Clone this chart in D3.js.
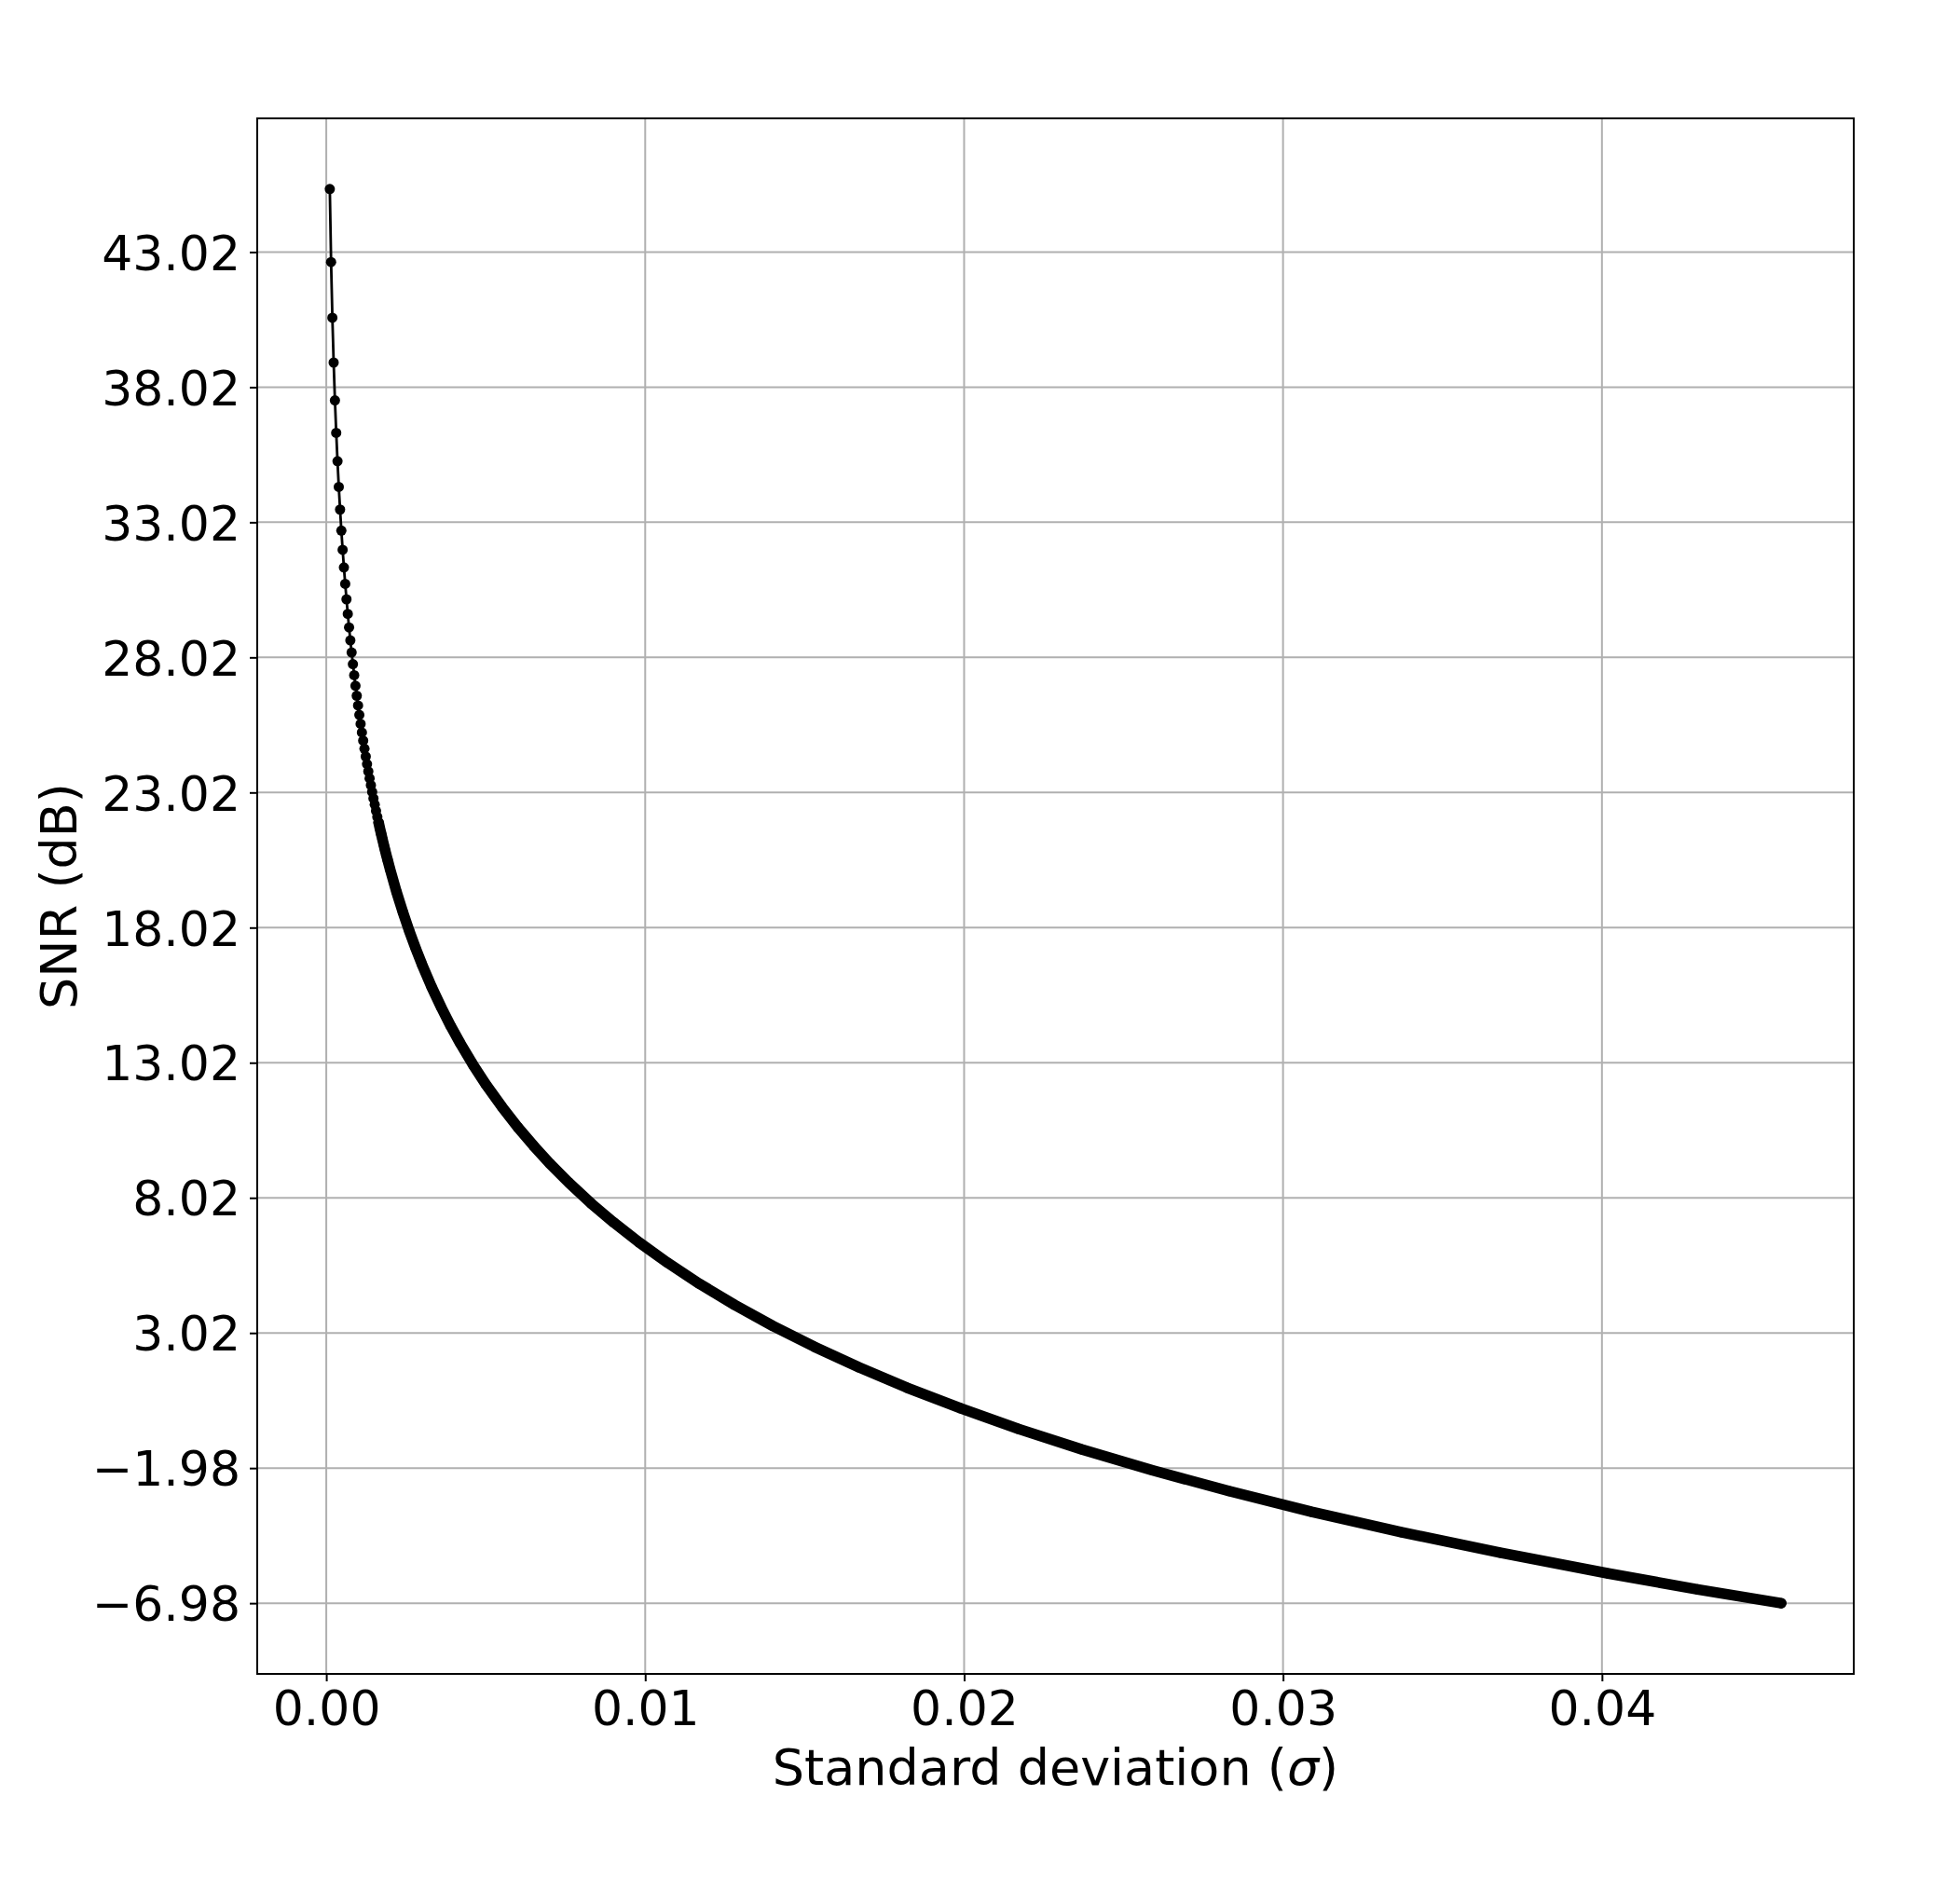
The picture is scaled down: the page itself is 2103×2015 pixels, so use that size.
<!DOCTYPE html>
<html>
<head>
<meta charset="utf-8">
<script src="https://cdn.jsdelivr.net/npm/d3@7"></script>
<style>
  body { margin: 0; background: #fff; }
  text { font-family: "DejaVu Sans", sans-serif; }
</style>
</head>
<body>
<div id="chart"></div>
<script>
// standard deviation of the added noise
const sigma = [
    0.0001103, 0.0001506, 0.0001908, 0.0002311, 0.0002714, 0.0003116, 0.0003519, 0.0003921, 0.0004324, 0.0004727,
    0.0005129, 0.0005532, 0.0005934, 0.0006337, 0.0006740, 0.0007142, 0.0007545, 0.0007947, 0.0008350, 0.0008753,
    0.0009155, 0.0009558, 0.0009960, 0.0010363, 0.0010765, 0.0011168, 0.0011571, 0.0011973, 0.0012376, 0.0012778,
    0.0013181, 0.0013583, 0.0013986, 0.0014389, 0.0014791, 0.0015194, 0.0015596, 0.0015999, 0.0016402, 0.0016804,
    0.0017207, 0.0017609, 0.0018012, 0.0018415, 0.0018817, 0.0019220,
    0.0020, 0.0022, 0.0024, 0.0026, 0.0028, 0.0030, 0.0033, 0.0036, 0.0039, 0.0042,
    0.0046, 0.0050, 0.0055, 0.0060, 0.0065, 0.0070, 0.0076, 0.0083, 0.0090, 0.0098,
    0.0107, 0.0117, 0.0128, 0.0140, 0.0153, 0.0167, 0.0182, 0.0199, 0.0217, 0.0237,
    0.0259, 0.0283, 0.0309, 0.0337, 0.0368, 0.0402, 0.0430, 0.04562
];

// SNR in dB for each sigma
const snr = [
    45.35, 42.65, 40.59, 38.93, 37.53, 36.33, 35.28, 34.33, 33.49, 32.71,
    32.00, 31.35, 30.74, 30.17, 29.63, 29.13, 28.65, 28.20, 27.77, 27.36,
    26.97, 26.60, 26.24, 25.89, 25.56, 25.24, 24.94, 24.64, 24.35, 24.07,
    23.80, 23.54, 23.29, 23.04, 22.80, 22.57, 22.34, 22.12, 21.91, 21.69,
    21.49, 21.29, 21.09, 20.90, 20.71, 20.53,
    20.18, 19.35, 18.60, 17.90, 17.26, 16.66, 15.83, 15.08, 14.38, 13.74,
    12.95, 12.22, 11.40, 10.64, 9.95, 9.30, 8.59, 7.82, 7.12, 6.38,
    5.62, 4.84, 4.06, 3.28, 2.51, 1.75, 1.00, 0.23, -0.53, -1.29,
    -2.06, -2.83, -3.60, -4.35, -5.11, -5.88, -6.47, -6.98
];

const xTicks = [0, 0.01, 0.02, 0.03, 0.04];
const yTicks = [-6.98, -1.98, 3.02, 8.02, 13.02, 18.02, 23.02, 28.02, 33.02, 38.02, 43.02];

// past this sigma the markers sit so close that they merge into one band
const denseFrom = 0.0016;

const fullWidth = 2103, fullHeight = 2015;
const margin = {top: 127, right: 114, bottom: 219, left: 276};
const width = fullWidth - margin.left - margin.right;
const height = fullHeight - margin.top - margin.bottom;

const data = sigma.map((s, i) => ({s: s, v: snr[i]}));

const svg = d3.select("#chart")
    .append("svg")
    .attr("width", fullWidth)
    .attr("height", fullHeight)
    .style("display", "block");

svg.append("rect")
    .attr("width", fullWidth)
    .attr("height", fullHeight)
    .attr("fill", "#fff");

const g = svg.append("g")
    .attr("transform", `translate(${margin.left},${margin.top})`);

// matplotlib-like 5% margins
const xExt = d3.extent(sigma), yExt = d3.extent(snr);
const xPad = (xExt[1] - xExt[0]) * 0.05, yPad = (yExt[1] - yExt[0]) * 0.05;

const x = d3.scaleLinear()
    .domain([xExt[0] - xPad, xExt[1] + xPad])
    .range([0, width]);

const y = d3.scaleLinear()
    .domain([yExt[0] - yPad, yExt[1] + yPad])
    .range([height, 0]);

// grid
g.append("g")
    .selectAll("line")
    .data(xTicks)
    .join("line")
    .attr("x1", d => x(d)).attr("x2", d => x(d))
    .attr("y1", 0).attr("y2", height)
    .attr("stroke", "#b0b0b0")
    .attr("stroke-width", 2);

g.append("g")
    .selectAll("line")
    .data(yTicks)
    .join("line")
    .attr("x1", 0).attr("x2", width)
    .attr("y1", d => y(d)).attr("y2", d => y(d))
    .attr("stroke", "#b0b0b0")
    .attr("stroke-width", 2);

// curve
const line = d3.line()
    .x(d => x(d.s))
    .y(d => y(d.v));

g.append("path")
    .datum(data.filter(d => d.s >= denseFrom))
    .attr("d", line)
    .attr("fill", "none")
    .attr("stroke", "#000")
    .attr("stroke-width", 11.5)
    .attr("stroke-linecap", "round")
    .attr("stroke-linejoin", "round");

g.append("path")
    .datum(data)
    .attr("d", line)
    .attr("fill", "none")
    .attr("stroke", "#000")
    .attr("stroke-width", 2.8);

g.append("g")
    .selectAll("circle")
    .data(data)
    .join("circle")
    .attr("cx", d => x(d.s))
    .attr("cy", d => y(d.v))
    .attr("r", 5.5)
    .attr("fill", "#000");

// axes
const xAxis = g.append("g")
    .attr("transform", `translate(0,${height})`)
    .call(d3.axisBottom(x)
        .tickValues(xTicks)
        .tickFormat(d3.format(".2f"))
        .tickSize(8)
        .tickPadding(10));

const yAxis = g.append("g")
    .call(d3.axisLeft(y)
        .tickValues(yTicks)
        .tickFormat(d3.format(".2f"))
        .tickSize(8)
        .tickPadding(10));

[xAxis, yAxis].forEach(ax => {
    ax.select(".domain").remove();
    ax.selectAll(".tick line").attr("stroke", "#000").attr("stroke-width", 2);
    ax.selectAll(".tick text")
        .attr("fill", "#000")
        .style("font-size", "52px")
        .style("font-family", "'DejaVu Sans', sans-serif");
});
yAxis.selectAll(".tick text").attr("dy", "0.36em");

// frame
g.append("rect")
    .attr("width", width)
    .attr("height", height)
    .attr("fill", "none")
    .attr("stroke", "#000")
    .attr("stroke-width", 2);

// labels
g.append("text")
    .attr("x", width / 2)
    .attr("y", height + 119)
    .attr("text-anchor", "middle")
    .style("font-size", "54px")
    .text("Standard deviation (")
    .append("tspan")
    .style("font-style", "italic")
    .text("σ")
    .select(function() { return this.parentNode; })
    .append("tspan")
    .text(")");

g.append("text")
    .attr("transform", `translate(${82 - margin.left},${height / 2}) rotate(-90)`)
    .attr("text-anchor", "middle")
    .style("font-size", "54px")
    .text("SNR (dB)");
</script>
</body>
</html>
